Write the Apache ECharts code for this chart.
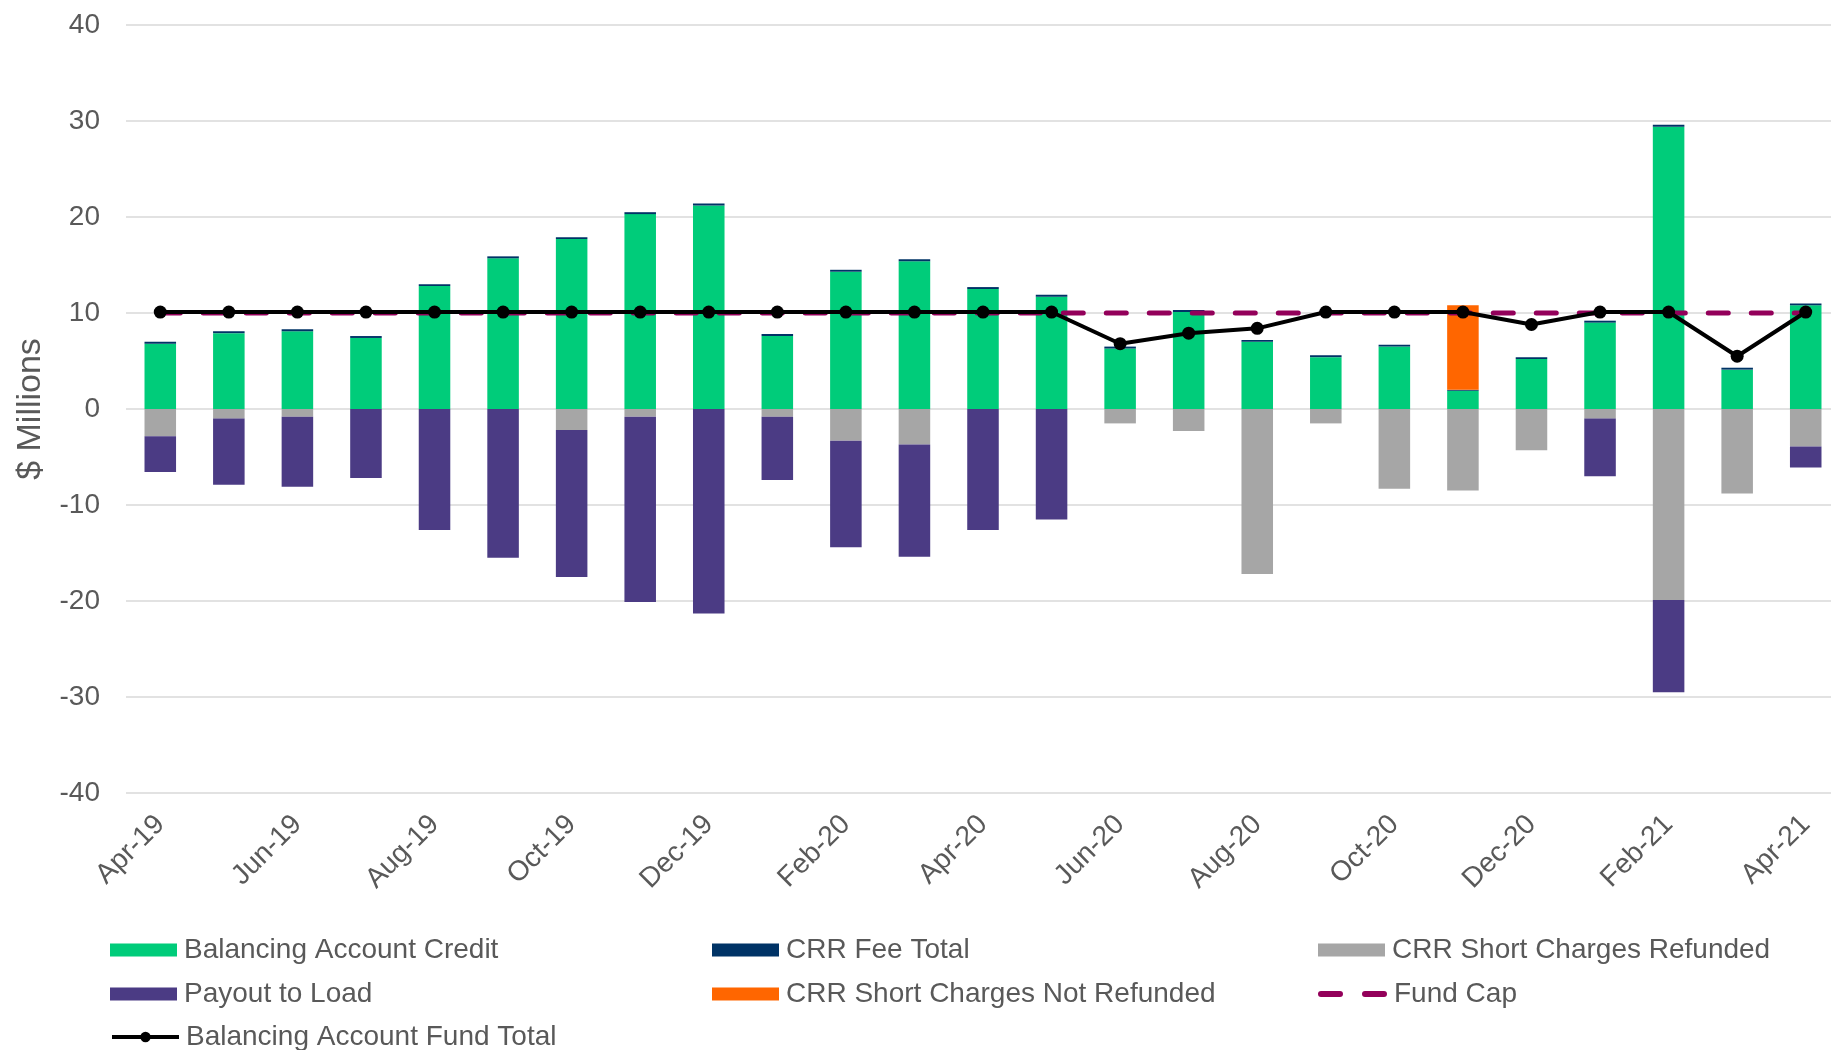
<!DOCTYPE html>
<html>
<head>
<meta charset="utf-8">
<script src="https://cdn.jsdelivr.net/npm/echarts@6/dist/echarts.min.js"></script>
<style>
  html, body { margin: 0; padding: 0; background: #fff; }
  #chart { width: 1831px; height: 1050px; }
</style>
</head>
<body>
<div id="chart"></div>
<script>
var months = ["Apr-19", "May-19", "Jun-19", "Jul-19", "Aug-19", "Sep-19", "Oct-19", "Nov-19", "Dec-19",
  "Jan-20", "Feb-20", "Mar-20", "Apr-20", "May-20", "Jun-20", "Jul-20", "Aug-20", "Sep-20", "Oct-20",
  "Nov-20", "Dec-20", "Jan-21", "Feb-21", "Mar-21", "Apr-21"];

var balancingCredit = [6.8, 7.9, 8.1, 7.4, 12.8, 15.7, 17.7, 20.3, 21.2, 7.6, 14.3, 15.4, 12.5, 11.7,
  6.3, 10.1, 7.0, 5.4, 6.5, 1.9, 5.2, 9.0, 29.4, 4.1, 10.8];
var crrFeeTotal = [0.2, 0.2, 0.2, 0.2, 0.2, 0.2, 0.2, 0.2, 0.2, 0.2, 0.2, 0.2, 0.2, 0.2,
  0.2, 0.2, 0.2, 0.2, 0.2, 0.1, 0.2, 0.2, 0.2, 0.2, 0.2];
var crrRefunded = [-2.85, -1.0, -0.8, 0, 0, 0, -2.2, -0.8, 0, -0.8, -3.3, -3.7, 0, 0,
  -1.5, -2.3, -17.2, -1.5, -8.3, -8.5, -4.3, -1.0, -19.9, -8.8, -3.9];
var payoutToLoad = [-3.7, -6.9, -7.3, -7.2, -12.6, -15.5, -15.3, -19.3, -21.3, -6.6, -11.1, -11.7, -12.6, -11.5,
  0, 0, 0, 0, 0, 0, 0, -6.0, -9.6, 0, -2.2];
var crrNotRefunded = [0, 0, 0, 0, 0, 0, 0, 0, 0, 0, 0, 0, 0, 0,
  0, 0, 0, 0, 0, 8.8, 0, 0, 0, 0, 0];
var fundCap = [10, 10, 10, 10, 10, 10, 10, 10, 10, 10, 10, 10, 10, 10,
  10, 10, 10, 10, 10, 10, 10, 10, 10, 10, 10];
var fundTotal = [10.1, 10.1, 10.1, 10.1, 10.1, 10.1, 10.1, 10.1, 10.1, 10.1, 10.1, 10.1, 10.1, 10.1,
  6.8, 7.9, 8.4, 10.1, 10.1, 10.1, 8.8, 10.1, 10.1, 5.5, 10.1];

var chart = echarts.init(document.getElementById("chart"));
var font = "'Liberation Sans', Arial, sans-serif";
var textColor = "#595959";

// one legend per entry so the three columns line up like the original
function legendItem(left, top, item) {
  return {
    left: left,
    top: top,
    padding: 0,
    itemWidth: 67,
    itemHeight: 13,
    itemGap: 0,
    textStyle: { fontFamily: font, fontSize: 28, color: textColor, lineHeight: 30, padding: [0, 0, 0, 2] },
    data: [item]
  };
}

function barSeries(name, data, color) {
  return {
    name: name,
    type: "bar",
    stack: "total",
    barWidth: "46%",
    itemStyle: { color: color },
    data: data
  };
}

var dashIcon = "path://M3,0H22A3,3 0 0 1 22,6H3A3,3 0 0 1 3,0Z M47,0H66A3,3 0 0 1 66,6H47A3,3 0 0 1 47,0Z";

var totalLegend = legendItem(110, 1022, "Balancing Account Fund Total");
totalLegend.lineStyle = { width: 4 };

var option = {
  animation: false,
  backgroundColor: "#fff",
  grid: { left: 126, width: 1714, top: 25, bottom: 257, outerBoundsMode: "none" },
  legend: [
    legendItem(110, 935, { name: "Balancing Account Credit", icon: "rect" }),
    legendItem(712, 935, { name: "CRR Fee Total", icon: "rect" }),
    legendItem(1318, 935, { name: "CRR Short Charges Refunded", icon: "rect" }),
    legendItem(110, 979, { name: "Payout to Load", icon: "rect" }),
    legendItem(712, 979, { name: "CRR Short Charges Not Refunded", icon: "rect" }),
    Object.assign(legendItem(1318, 979, { name: "Fund Cap", icon: dashIcon }), { itemWidth: 69, itemHeight: 6 }),
    totalLegend
  ],
  xAxis: {
    type: "category",
    data: months,
    axisLine: { show: false },
    axisTick: { show: false },
    axisLabel: {
      interval: 1,
      rotate: 45,
      margin: 27,
      fontFamily: font,
      fontSize: 28,
      color: textColor
    }
  },
  yAxis: {
    type: "value",
    min: -40,
    max: 40,
    interval: 10,
    name: "$ Millions",
    nameLocation: "middle",
    nameGap: 78,
    nameTextStyle: { fontFamily: font, fontSize: 34, color: textColor },
    axisLine: { show: false },
    axisTick: { show: false },
    axisLabel: { margin: 26, fontFamily: font, fontSize: 28, color: textColor },
    splitLine: { lineStyle: { color: "#d9d9d9", width: 1.5 } }
  },
  series: [
    barSeries("Balancing Account Credit", balancingCredit, "#00cc7a"),
    barSeries("CRR Fee Total", crrFeeTotal, "#003366"),
    barSeries("CRR Short Charges Refunded", crrRefunded, "#a6a6a6"),
    barSeries("Payout to Load", payoutToLoad, "#4b3b84"),
    barSeries("CRR Short Charges Not Refunded", crrNotRefunded, "#ff6600"),
    {
      name: "Fund Cap",
      type: "line",
      symbol: "none",
      lineStyle: { color: "#93005a", width: 5, type: [20, 23], cap: "round" },
      itemStyle: { color: "#93005a" },
      data: fundCap
    },
    {
      name: "Balancing Account Fund Total",
      type: "line",
      symbol: "circle",
      symbolSize: 13,
      lineStyle: { color: "#000", width: 4 },
      itemStyle: { color: "#000" },
      data: fundTotal
    }
  ]
};

chart.setOption(option);
</script>
</body>
</html>
